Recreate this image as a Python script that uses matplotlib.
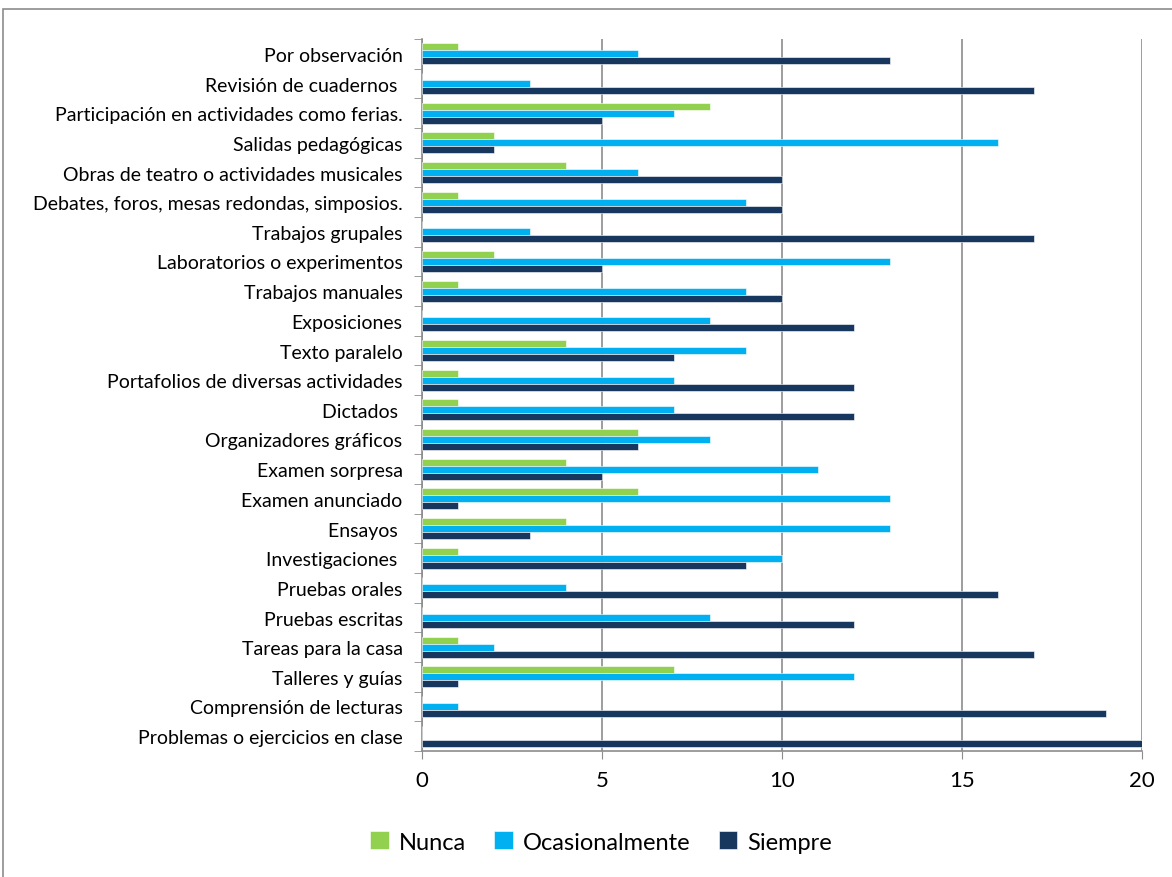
import matplotlib.pyplot as plt
import numpy as np
from matplotlib.patches import Rectangle

plt.rcParams['font.family'] = ['Lato', 'DejaVu Sans']

# categorias de arriba hacia abajo
categorias = [
    "Por observación",
    "Revisión de cuadernos ",
    "Participación en actividades como ferias.",
    "Salidas pedagógicas",
    "Obras de teatro o actividades musicales",
    "Debates, foros, mesas redondas, simposios.",
    "Trabajos grupales",
    "Laboratorios o experimentos",
    "Trabajos manuales",
    "Exposiciones",
    "Texto paralelo",
    "Portafolios de diversas actividades",
    "Dictados ",
    "Organizadores gráficos",
    "Examen sorpresa",
    "Examen anunciado",
    "Ensayos ",
    "Investigaciones ",
    "Pruebas orales",
    "Pruebas escritas",
    "Tareas para la casa",
    "Talleres y guías",
    "Comprensión de lecturas",
    "Problemas o ejercicios en clase",
]

nunca = [1, 0, 8, 2, 4, 1, 0, 2, 1, 0, 4, 1, 1, 6, 4, 6, 4, 1, 0, 0, 1, 7, 0, 0]
ocasionalmente = [6, 3, 7, 16, 6, 9, 3, 13, 9, 8, 9, 7, 7, 8, 11, 13, 13, 10, 4, 8, 2, 12, 1, 0]
siempre = [13, 17, 5, 2, 10, 10, 17, 5, 10, 12, 7, 12, 12, 6, 5, 1, 3, 9, 16, 12, 17, 1, 19, 20]

series = ["Nunca", "Ocasionalmente", "Siempre"]
colores = ["#92D050", "#00B0F0", "#17375E"]

fig = plt.figure(figsize=(11.72, 8.78), dpi=100)
ax = fig.add_axes([422 / 1172, 126 / 878, 720 / 1172, 712 / 878])

# borde exterior del grafico
fig.patches.append(Rectangle((3 / 1172, -0.1), 1.2, (878 - 10) / 878 + 0.1,
                             transform=fig.transFigure, fill=False,
                             edgecolor="#8c8c8c", lw=1.2))

n = len(categorias)
y = np.arange(n)[::-1]
h = 0.236
for i, (vals, nombre, c) in enumerate(zip([nunca, ocasionalmente, siempre], series, colores)):
    ax.barh(y + (1 - i) * h, vals, height=h, color=c, edgecolor="white",
            linewidth=0.4, label=nombre, zorder=3)

ax.set_xlim(0, 20)
ax.set_ylim(-0.5, n - 0.5)
ax.set_xticks([0, 5, 10, 15, 20])
ax.tick_params(axis="x", labelsize=16, length=6, color="#8c8c8c", pad=8)
ax.set_yticks(y)
ax.set_yticklabels(categorias, fontsize=14)
ax.set_yticks(np.arange(n + 1) - 0.5, minor=True)
ax.tick_params(axis="y", which="major", length=0, pad=14)
ax.tick_params(axis="y", which="minor", length=6, color="#8c8c8c")
ax.xaxis.grid(True, color="#8c8c8c", lw=1.2, zorder=0)

for s in ["top", "right"]:
    ax.spines[s].set_visible(False)
ax.spines["left"].set_color("#8c8c8c")
ax.spines["bottom"].set_color("#8c8c8c")
ax.spines["left"].set_linewidth(1.2)
ax.spines["bottom"].set_linewidth(1.2)

fig.legend(loc="center", bbox_to_anchor=(601 / 1172, 1 - 843 / 878), ncol=3,
           frameon=False, fontsize=17, handlelength=0.8, handleheight=0.8,
           handletextpad=0.4, columnspacing=1.2)

fig.savefig("out.png", dpi=100)
